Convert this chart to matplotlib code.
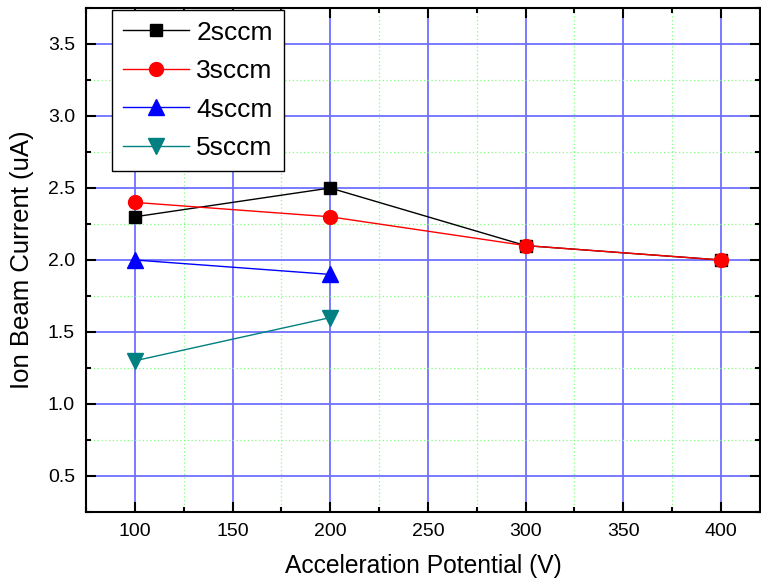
import numpy as np
import matplotlib.pyplot as plt
from matplotlib.ticker import MultipleLocator

plt.rcParams['font.family'] = ['Liberation Sans', 'DejaVu Sans']

# data
x_2 = [100, 200, 300, 400]
y_2 = [2.3, 2.5, 2.1, 2.0]
x_3 = [100, 200, 300, 400]
y_3 = [2.4, 2.3, 2.1, 2.0]
x_4 = [100, 200]
y_4 = [2.0, 1.9]
x_5 = [100, 200]
y_5 = [1.3, 1.6]

fig = plt.figure(figsize=(7.61, 5.87), dpi=100)
ax = fig.add_axes([86 / 761, 1 - 512 / 587, 674 / 761, 504 / 587])

ax.plot(x_2, y_2, 'k-', lw=1, marker='s', ms=9, label='2sccm')
ax.plot(x_3, y_3, 'r-', lw=1, marker='o', ms=10, label='3sccm')
ax.plot(x_4, y_4, 'b-', lw=1, marker='^', ms=11, label='4sccm')
ax.plot(x_5, y_5, '-', color='#008080', lw=1, marker='v', ms=11, label='5sccm')

ax.set_xlim(75, 420)
ax.set_ylim(0.25, 3.75)
ax.xaxis.set_major_locator(MultipleLocator(50))
ax.xaxis.set_minor_locator(MultipleLocator(25))
ax.yaxis.set_major_locator(MultipleLocator(0.5))
ax.yaxis.set_minor_locator(MultipleLocator(0.25))
ax.set_yticks([0.5, 1.0, 1.5, 2.0, 2.5, 3.0, 3.5])

ax.grid(True, which='major', color='#6f6fff', lw=1.3, zorder=0)
ax.grid(True, which='minor', color='#80ff80', lw=0.9, ls=(0, (1, 2)), zorder=0)
ax.set_axisbelow(True)

ax.tick_params(which='both', direction='in', top=True, right=True, width=1.5)
ax.tick_params(which='major', length=7.2, labelsize=14, pad=8)
ax.tick_params(which='minor', length=3.6)
for s in ax.spines.values():
    s.set_linewidth(1.5)

ax.set_xlabel('Acceleration Potential (V)', fontsize=17.7, labelpad=10)
ax.set_ylabel('Ion Beam Current (uA)', fontsize=18.5, labelpad=10)

leg = ax.legend(loc='upper left', bbox_to_anchor=(26 / 674, 1 - 2 / 504),
                borderaxespad=0, fontsize=19, handlelength=2.5,
                handletextpad=0.3, labelspacing=0.55, fancybox=False,
                framealpha=1, edgecolor='black', borderpad=0.4)
leg.get_frame().set_linewidth(1)

fig.savefig('out.png', dpi=100)
